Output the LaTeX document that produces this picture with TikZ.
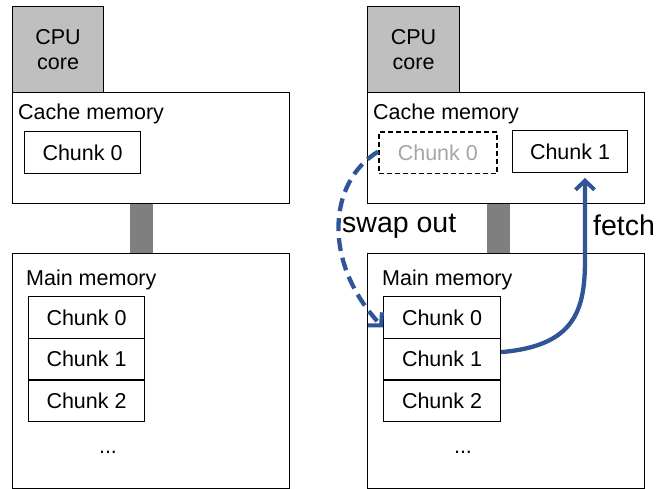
\documentclass[tikz,border=0pt]{standalone}
\usepackage{fontspec}
\setmainfont{Liberation Sans}
\usetikzlibrary{arrows.meta}
\definecolor{arrowblue}{HTML}{2F5597}
\definecolor{cpugray}{HTML}{BFBFBF}
\definecolor{bargray}{HTML}{7F7F7F}
\definecolor{ghost}{HTML}{A6A6A6}
\begin{document}
\begin{tikzpicture}[x=1pt,y=-1pt,
  box/.style={draw=black,line width=1.1pt,fill=white,rectangle,inner sep=0pt,anchor=north west},
  cpubox/.style={box,fill=cpugray,minimum width=91pt,minimum height=86pt,align=center,font=\fontsize{21.5}{25}\selectfont},
  membox/.style={box,minimum width=277pt},
  chunk/.style={box,minimum height=41.7pt,font=\fontsize{21.5}{25}\selectfont},
  ghostchunk/.style={chunk,dash pattern=on 5pt off 3pt,line width=1.7pt,text=ghost},
  bar/.style={fill=bargray,draw=none,inner sep=0pt,anchor=north west,minimum width=23pt,minimum height=51pt},
  lbl/.style={font=\fontsize{21.5}{25}\selectfont,inner sep=0pt,anchor=base west},
  biglbl/.style={font=\fontsize{28.5}{32}\selectfont,inner sep=0pt,anchor=base west},
  flow/.style={draw=arrowblue,line width=4.3pt,-{Straight Barb[length=9pt,width=19pt,line width=4pt]}},
]
\useasboundingbox (0,0) rectangle (669,489);

% ----- left -----
\node[bar] (lbar) at (130,202) {};
\node[cpubox] (lcpu) at (12,6) {CPU\\core};
\node[membox,minimum height=111pt] (lcache) at (12,92) {};
\node[lbl] (lcachet) at (18,120) {Cache memory};
\node[chunk,minimum width=116pt] (lcc0) at (24,131) {Chunk 0};
\node[membox,minimum height=235pt] (lmain) at (12,253) {};
\node[lbl] (lmaint) at (26,285) {Main memory};
\node[chunk,minimum width=116pt] (lm0) at (28,296) {Chunk 0};
\node[chunk,minimum width=116pt] (lm1) at (28,337.7) {Chunk 1};
\node[chunk,minimum width=116pt] (lm2) at (28,379.4) {Chunk 2};
\node[lbl,anchor=base] (ldots) at (108,453) {...};

% ----- right -----
\node[bar] (rbar) at (487,202) {};
\node[cpubox,minimum width=92pt] (rcpu) at (367,6) {CPU\\core};
\node[membox,minimum height=111pt] (rcache) at (367,92) {};
\node[lbl] (rcachet) at (373,120) {Cache memory};
\node[ghostchunk,minimum width=118pt] (rcc0) at (378,131) {Chunk 0};
\node[chunk,minimum width=115pt,minimum height=42pt] (rcc1) at (512,130) {Chunk 1};
\node[membox,minimum height=235pt] (rmain) at (367,253) {};
\node[lbl] (rmaint) at (382,285) {Main memory};
\node[chunk,minimum width=117pt] (rm0) at (383,296) {Chunk 0};
\node[chunk,minimum width=117pt] (rm1) at (383,337.7) {Chunk 1};
\node[chunk,minimum width=117pt] (rm2) at (383,379.4) {Chunk 2};
\node[lbl,anchor=base] (rdots) at (463,453) {...};

% ----- arrows -----
\coordinate (swapend) at ([yshift=-10pt]rm0.west);
\coordinate (fetchstart) at ([yshift=7pt]rm1.east);
\coordinate (fetchend) at (585,178);
\draw[flow,dash pattern=on 13pt off 7pt] ([yshift=1pt]rcc0.west) .. controls (328,182) and (322,262) .. (swapend);
\draw[flow] (fetchstart) .. controls (575,346) and (585,310) .. (585,260) -- (fetchend);
\node[biglbl] (swapt) at (342,233) {swap out};
\node[biglbl] (fetcht) at (593,236) {fetch};
\end{tikzpicture}
\end{document}
